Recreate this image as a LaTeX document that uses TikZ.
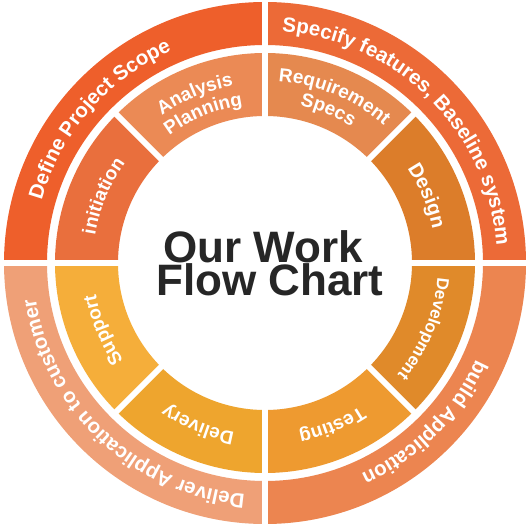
\documentclass[tikz,border=0pt]{standalone}
\usepackage{fontspec}
\setmainfont{Liberation Sans}
\usepackage{tikz}
\usetikzlibrary{decorations.text}

\definecolor{scopeC}{HTML}{EE5F2B}
\definecolor{specifyC}{HTML}{EC6A37}
\definecolor{buildC}{HTML}{EC8550}
\definecolor{deliverC}{HTML}{EFA077}
\definecolor{initC}{HTML}{E96F3D}
\definecolor{analysisC}{HTML}{EB8A55}
\definecolor{reqC}{HTML}{E5894F}
\definecolor{designC}{HTML}{DC7D2A}
\definecolor{devC}{HTML}{E08A2A}
\definecolor{testC}{HTML}{EE9A30}
\definecolor{deliveryC}{HTML}{EEA52E}
\definecolor{supportC}{HTML}{F5AE3A}
\definecolor{titleC}{HTML}{262626}

% radius, mid angle, font size, text
\newcommand{\ringlabel}[4]{%
  \path[decorate,decoration={text along path,text align=center,
      text={|\fontsize{#3}{#3}\selectfont\bfseries\color{white}|#4}}]
    (#2+70:#1) arc[start angle=#2+70,end angle=#2-70,radius=#1];}

\begin{document}
\begin{tikzpicture}[x=1pt,y=1pt,
    gap/.style={white,line width=6pt},
    title/.style={font=\bfseries\fontsize{44}{44}\selectfont,text=titleC,anchor=base,inner sep=0pt}]
  \useasboundingbox[fill=white] (-265,-264) rectangle (264,263);

  % outer ring
  \foreach \a/\c in {90/scopeC, 0/specifyC, -90/buildC, 180/deliverC}
    \fill[\c] (\a:261pt) arc[start angle=\a,end angle=\a+90,radius=261pt]
      -- (\a+90:218pt) arc[start angle=\a+90,end angle=\a,radius=218pt] -- cycle;

  % inner ring
  \foreach \a/\c in {135/initC, 90/analysisC, 45/reqC, 0/designC,
                     -45/devC, -90/testC, -135/deliveryC, -180/supportC}
    \fill[\c] (\a:210pt) arc[start angle=\a,end angle=\a+45,radius=210pt]
      -- (\a+45:147pt) arc[start angle=\a+45,end angle=\a,radius=147pt] -- cycle;

  \foreach \a in {0, 90, 180, 270}
    \draw[gap] (\a:140pt) -- (\a:266pt);
  \foreach \a in {45, 135, 225, 315}
    \draw[gap] (\a:140pt) -- (\a:214pt);

  \ringlabel{232pt}{139}{20.5}{Define Project Scope}
  \ringlabel{232pt}{45}{20.5}{Specify features{,} Baseline system}
  \ringlabel{232pt}{-45}{20.5}{build Application}
  \ringlabel{232pt}{227}{20.5}{Deliver Application to customer}

  \ringlabel{172pt}{157.5}{19}{initiation}
  \ringlabel{180pt}{112.5}{19}{Analysis}
  \ringlabel{159pt}{112.5}{19}{Planning}
  \ringlabel{182pt}{67.5}{19}{Requirement}
  \ringlabel{161pt}{67.5}{19}{Specs}
  \ringlabel{171pt}{22.5}{20}{Design}
  \ringlabel{173pt}{-22.5}{17}{Development}
  \ringlabel{172pt}{-67.5}{19}{Testing}
  \ringlabel{172pt}{-112.5}{19}{Delivery}
  \ringlabel{172pt}{-157.5}{19}{Support}

  \node[title] (ourwork) at (-2,1) {Our Work};
  \node[title] (flowchart) at (5,-32) {Flow Chart};
\end{tikzpicture}
\end{document}
